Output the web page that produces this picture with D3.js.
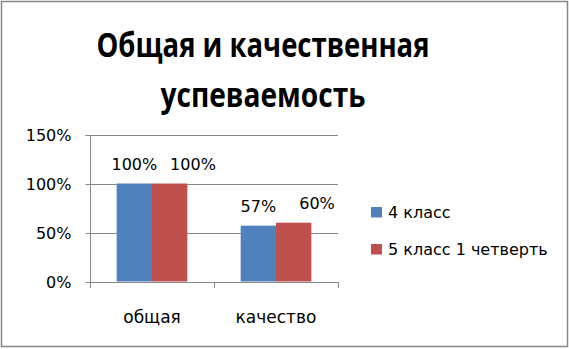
<!DOCTYPE html>
<html>
<head>
<meta charset="utf-8">
<script src="https://cdn.jsdelivr.net/npm/d3@7"></script>
<style>
  body { margin: 0; background: #fff; }
  svg { display: block; font-family: "DejaVu Sans", sans-serif; }
</style>
</head>
<body>
<svg id="canvas" width="569" height="349"></svg>
<script>
let categories = ["общая", "качество"]
let seriesNames = ["4 класс", "5 класс 1 четверть"]
let seriesColors = ["#4F81BD", "#C0504D"]
let class4 = [1.00, 0.57]
let class5 = [1.00, 0.60]
let yTicks = [0, 0.5, 1, 1.5]

let allSeries = [class4, class5]
let pct = d3.format(".0%")
let labelFont = '"DejaVu Sans", sans-serif'

let canvas = d3.select("#canvas")

// frame
canvas.append('rect')
    .attr('x', 1.5).attr('y', 1.5)
    .attr('width', 566).attr('height', 345)
    .attr('fill', '#fff')
    .attr('stroke', '#868686')
    .attr('stroke-width', 1.5)

// title
let titleLines = [
    { text: "Общая и качественная", y: 57, w: 333 },
    { text: "успеваемость", y: 107, w: 205 }
]
canvas.append('g')
    .selectAll('text')
    .data(titleLines)
    .enter()
    .append('text')
    .attr('x', 263).attr('y', d => d.y)
    .attr('text-anchor', 'middle')
    .attr('font-family', '"Open Sans", sans-serif')
    .attr('font-size', 34).attr('font-weight', 'bold')
    .attr('textLength', d => d.w)
    .attr('lengthAdjust', 'spacingAndGlyphs')
    .text(d => d.text)

let plotLeft = 90, plotRight = 338, plotTop = 134.5, plotBottom = 281.5

let x = d3.scaleBand()
    .domain(categories)
    .range([plotLeft, plotRight])
    .paddingInner(0.43)
    .paddingOuter(0.215)

let y = d3.scaleLinear()
    .domain([0, 1.5])
    .range([plotBottom, plotTop])

let sub = d3.scaleBand()
    .domain(d3.range(allSeries.length))
    .range([0, x.bandwidth()])

// grid lines
canvas.append('g')
    .selectAll('line')
    .data(yTicks.filter(d => d > 0))
    .enter()
    .append('line')
    .attr('x1', plotLeft).attr('x2', plotRight)
    .attr('y1', d => Math.round(y(d)) + 0.5)
    .attr('y2', d => Math.round(y(d)) + 0.5)
    .attr('stroke', '#868686')

// y axis
let yAxis = d3.axisLeft(y)
    .tickValues(yTicks)
    .tickFormat(pct)
    .tickSize(5)
    .tickPadding(14)

let yg = canvas.append('g')
    .attr('transform', 'translate(' + (plotLeft + 0.5) + ',0.5)')
    .call(yAxis)
yg.selectAll('.tick line').attr('stroke', '#868686')
yg.select('.domain').attr('stroke', '#868686').attr('d', 'M-5,' + Math.round(plotTop) + 'H0V' + Math.round(plotBottom))
yg.selectAll('.tick text')
    .attr('font-size', 16).attr('font-family', labelFont)
    .attr('fill', '#000')

// bars
let groups = canvas.append('g')
    .selectAll('g')
    .data(allSeries)
    .enter()
    .append('g')
    .attr('fill', (d, i) => seriesColors[i])

groups.selectAll('rect')
    .data((d, i) => d.map((v, j) => ({ v: v, cat: categories[j], s: i })))
    .enter()
    .append('rect')
    .attr('x', d => x(d.cat) + sub(d.s))
    .attr('width', sub.bandwidth())
    .attr('y', d => y(d.v))
    .attr('height', d => y(0) - y(d.v))

// value labels (second series pushed right so they don't collide)
groups.selectAll('text')
    .data((d, i) => d.map((v, j) => ({ v: v, cat: categories[j], s: i })))
    .enter()
    .append('text')
    .attr('x', d => x(d.cat) + sub(d.s) + sub.bandwidth() / 2 + (d.s === 1 ? sub.bandwidth() * 0.66 : 0))
    .attr('y', d => y(d.v) - 14)
    .attr('text-anchor', 'middle')
    .attr('font-size', 16)
    .attr('font-family', labelFont)
    .attr('fill', '#000')
    .text(d => pct(d.v))

// x axis
let xAxis = d3.axisBottom(x)
    .tickSize(0)
    .tickPadding(28)

let xg = canvas.append('g')
    .attr('transform', 'translate(0,' + (Math.round(plotBottom) + 0.5) + ')')
    .call(xAxis)
xg.select('.domain').attr('stroke', '#868686').attr('d', 'M' + plotLeft + ',0H' + plotRight)
xg.selectAll('.tick text')
    .attr('font-size', 17).attr('font-family', labelFont)
    .attr('fill', '#000')

// category separators
canvas.append('g')
    .selectAll('line')
    .data(d3.range(categories.length + 1))
    .enter()
    .append('line')
    .attr('x1', i => Math.round(plotLeft + i * (plotRight - plotLeft) / categories.length) + 0.5)
    .attr('x2', i => Math.round(plotLeft + i * (plotRight - plotLeft) / categories.length) + 0.5)
    .attr('y1', Math.round(plotBottom))
    .attr('y2', Math.round(plotBottom) + 6)
    .attr('stroke', '#868686')

// legend
let legend = canvas.append('g')
    .selectAll('g')
    .data(seriesNames)
    .enter()
    .append('g')
    .attr('transform', (d, i) => 'translate(371,' + (207 + i * 37) + ')')

legend.append('rect')
    .attr('width', 11).attr('height', 10.5)
    .attr('fill', (d, i) => seriesColors[i])

legend.append('text')
    .attr('x', 17).attr('y', 11)
    .attr('font-size', 16)
    .attr('font-family', labelFont)
    .attr('fill', '#000')
    .text(d => d)
</script>
</body>
</html>
